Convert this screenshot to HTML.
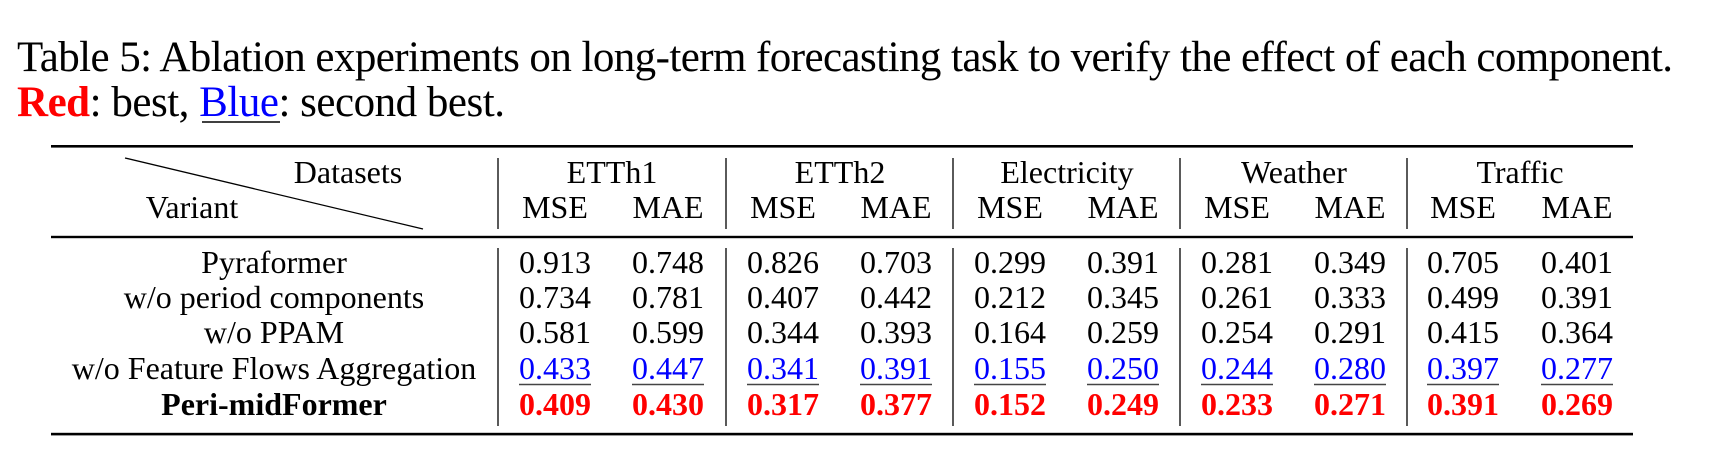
<!DOCTYPE html>
<html><head><meta charset="utf-8"><style>
html,body{margin:0;padding:0;background:#fff;width:1730px;height:472px;overflow:hidden}
svg{display:block}
text{font-family:"Liberation Serif",serif;fill:#000}
.b{font-weight:bold}
.r{fill:#ff0000;font-weight:bold}
.bl{fill:#0000ff}
</style></head><body>
<svg width="1730" height="472" viewBox="0 0 1730 472" xmlns="http://www.w3.org/2000/svg">
<text x="17" y="71" font-size="43" textLength="1656" lengthAdjust="spacing">Table 5: Ablation experiments on long-term forecasting task to verify the effect of each component.</text>
<text x="17" y="116" font-size="43" textLength="488" lengthAdjust="spacing"><tspan class="r">Red</tspan>: best, <tspan class="bl">Blue</tspan>: second best.</text>
<line x1="202" y1="122" x2="280" y2="122" stroke="#000" stroke-width="1.5"/>
<rect x="51" y="145" width="1582" height="2.6" fill="#000"/>
<rect x="51" y="235.8" width="1582" height="2.4" fill="#000"/>
<rect x="51" y="432.8" width="1582" height="2.6" fill="#000"/>
<line x1="125" y1="158" x2="423" y2="229" stroke="#000" stroke-width="1.3"/>
<g stroke="#000" stroke-width="1.3">
<line x1="498" y1="158" x2="498" y2="229"/><line x1="498" y1="248" x2="498" y2="426"/>
<line x1="726" y1="158" x2="726" y2="229"/><line x1="726" y1="248" x2="726" y2="426"/>
<line x1="953" y1="158" x2="953" y2="229"/><line x1="953" y1="248" x2="953" y2="426"/>
<line x1="1180" y1="158" x2="1180" y2="229"/><line x1="1180" y1="248" x2="1180" y2="426"/>
<line x1="1407" y1="158" x2="1407" y2="229"/><line x1="1407" y1="248" x2="1407" y2="426"/>
</g>
<g font-size="32" text-anchor="middle">
<text x="348" y="183">Datasets</text>
<text x="192" y="218">Variant</text>
<text x="612" y="183">ETTh1</text><text x="840" y="183">ETTh2</text><text x="1067" y="183">Electricity</text><text x="1294" y="183">Weather</text><text x="1520" y="183">Traffic</text>
<text x="555" y="218">MSE</text><text x="668" y="218">MAE</text>
<text x="783" y="218">MSE</text><text x="896" y="218">MAE</text>
<text x="1010" y="218">MSE</text><text x="1123" y="218">MAE</text>
<text x="1237" y="218">MSE</text><text x="1350" y="218">MAE</text>
<text x="1463" y="218">MSE</text><text x="1577" y="218">MAE</text>
<text x="274" y="273">Pyraformer</text>
<text x="274" y="308">w/o period components</text>
<text x="274" y="343">w/o PPAM</text>
<text x="274" y="379">w/o Feature Flows Aggregation</text>
<text x="274" y="415" class="b">Peri-midFormer</text>

<text x="555" y="273">0.913</text><text x="668" y="273">0.748</text><text x="783" y="273">0.826</text><text x="896" y="273">0.703</text><text x="1010" y="273">0.299</text><text x="1123" y="273">0.391</text><text x="1237" y="273">0.281</text><text x="1350" y="273">0.349</text><text x="1463" y="273">0.705</text><text x="1577" y="273">0.401</text>
<text x="555" y="308">0.734</text><text x="668" y="308">0.781</text><text x="783" y="308">0.407</text><text x="896" y="308">0.442</text><text x="1010" y="308">0.212</text><text x="1123" y="308">0.345</text><text x="1237" y="308">0.261</text><text x="1350" y="308">0.333</text><text x="1463" y="308">0.499</text><text x="1577" y="308">0.391</text>
<text x="555" y="343">0.581</text><text x="668" y="343">0.599</text><text x="783" y="343">0.344</text><text x="896" y="343">0.393</text><text x="1010" y="343">0.164</text><text x="1123" y="343">0.259</text><text x="1237" y="343">0.254</text><text x="1350" y="343">0.291</text><text x="1463" y="343">0.415</text><text x="1577" y="343">0.364</text>
<text x="555" y="379" class="bl">0.433</text><text x="668" y="379" class="bl">0.447</text><text x="783" y="379" class="bl">0.341</text><text x="896" y="379" class="bl">0.391</text><text x="1010" y="379" class="bl">0.155</text><text x="1123" y="379" class="bl">0.250</text><text x="1237" y="379" class="bl">0.244</text><text x="1350" y="379" class="bl">0.280</text><text x="1463" y="379" class="bl">0.397</text><text x="1577" y="379" class="bl">0.277</text>
<text x="555" y="415" class="r">0.409</text><text x="668" y="415" class="r">0.430</text><text x="783" y="415" class="r">0.317</text><text x="896" y="415" class="r">0.377</text><text x="1010" y="415" class="r">0.152</text><text x="1123" y="415" class="r">0.249</text><text x="1237" y="415" class="r">0.233</text><text x="1350" y="415" class="r">0.271</text><text x="1463" y="415" class="r">0.391</text><text x="1577" y="415" class="r">0.269</text>
</g>
<g stroke="#444" stroke-width="1.6">
<line x1="519" y1="384.5" x2="591" y2="384.5"/><line x1="632" y1="384.5" x2="704" y2="384.5"/>
<line x1="747" y1="384.5" x2="819" y2="384.5"/><line x1="860" y1="384.5" x2="932" y2="384.5"/>
<line x1="974" y1="384.5" x2="1046" y2="384.5"/><line x1="1087" y1="384.5" x2="1159" y2="384.5"/>
<line x1="1201" y1="384.5" x2="1273" y2="384.5"/><line x1="1314" y1="384.5" x2="1386" y2="384.5"/>
<line x1="1427" y1="384.5" x2="1499" y2="384.5"/><line x1="1541" y1="384.5" x2="1613" y2="384.5"/>
</g>
</svg>
</body></html>
